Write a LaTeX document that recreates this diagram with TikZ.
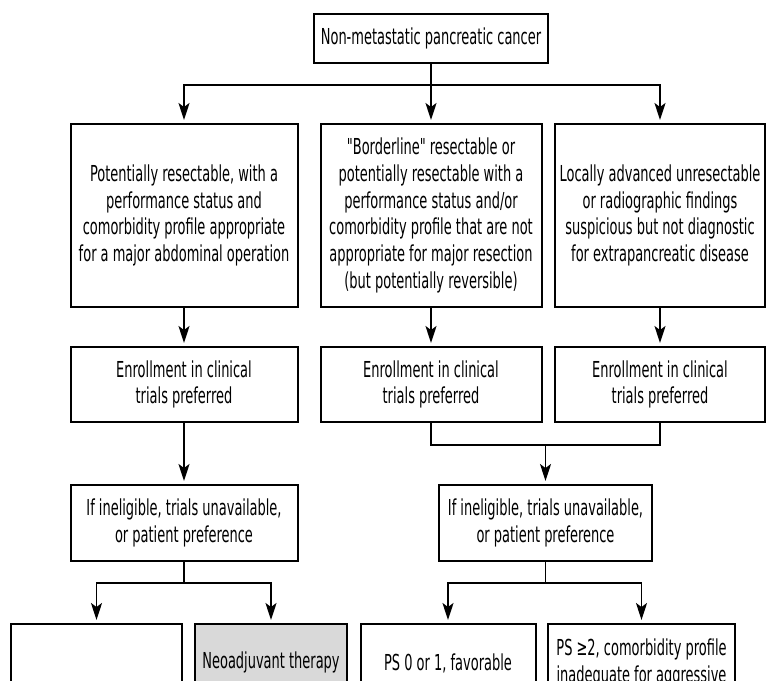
\documentclass[tikz,border=0pt]{standalone}
\usepackage{fontspec}
\setmainfont{DejaVu Sans}[FakeStretch=0.59,Ligatures=TeXOff]
\usetikzlibrary{arrows.meta}
\definecolor{shade}{HTML}{D9D9D9}

\begin{document}
\begin{tikzpicture}[x=1pt,y=-1pt,
    every node/.style={draw,line width=2pt,align=center,inner sep=0pt,
      font=\fontsize{22}{26.8}\selectfont},
    flow/.style={line width=1.8pt},
    arr/.style={flow,-{Stealth[length=17pt,width=11pt,inset=4pt]},shorten >=3pt},
    low/.style={anchor=north,text height=16pt,text depth=120pt}]
  \fill[white] (0,0) rectangle (767,680);
  \useasboundingbox (0,0) rectangle (767,680);
  \clip (0,0) rectangle (767,680);

  \node[minimum width=234pt,minimum height=49pt] (top) at (431,38) {Non-metastatic pancreatic cancer};

  \node[minimum width=227pt,minimum height=183pt] (res) at (184,215.5)
    {Potentially resectable, with a\\performance status and\\comorbidity profile appropriate\\for a major abdominal operation};
  \node[minimum width=221pt,minimum height=183pt] (bord) at (431,215.5)
    {"Borderline" resectable or\\potentially resectable with a\\performance status and/or\\comorbidity profile that are not\\appropriate for major resection\\(but potentially reversible)};
  \node[minimum width=210pt,minimum height=183pt] (lad) at (660,215.5)
    {Locally advanced unresectable\\or radiographic findings\\suspicious but not diagnostic\\for extrapancreatic disease};

  \node[minimum width=227pt,minimum height=75pt] (enr1) at (184,384.5) {Enrollment in clinical\\trials preferred};
  \node[minimum width=221pt,minimum height=75pt] (enr2) at (431,384.5) {Enrollment in clinical\\trials preferred};
  \node[minimum width=210pt,minimum height=75pt] (enr3) at (660,384.5) {Enrollment in clinical\\trials preferred};

  \node[minimum width=227pt,minimum height=76pt] (inel1) at (184,523) {If ineligible, trials unavailable,\\or patient preference};
  \node[minimum width=213pt,minimum height=76pt] (inel2) at (545.5,523) {If ineligible, trials unavailable,\\or patient preference};

  \node[low,minimum width=171pt] (surg) at (96.5,623) {};
  \node[low,minimum width=152pt,fill=shade,inner ysep=28pt] (neo) at (271,623) {Neoadjuvant therapy};
  \node[low,minimum width=175pt,inner ysep=30pt] (ps01) at (448,623) {PS 0 or 1, favorable};
  \node[low,minimum width=187pt,inner ysep=42pt] (ps2) at (641.5,623) {PS ≥2, comorbidity profile\\inadequate for aggressive};

  \coordinate (s1) at (431,85);
  \draw[flow] (top) -- (s1);
  \draw[arr] (s1) -| (res);
  \draw[arr] (s1) -- (bord);
  \draw[arr] (s1) -| (lad);

  \draw[arr] (res) -- (enr1);
  \draw[arr] (bord) -- (enr2);
  \draw[arr] (lad) -- (enr3);

  \draw[arr] (enr1) -- (inel1);
  \coordinate (m1) at (545.5,445);
  \draw[flow] (enr2) |- (m1) -| (enr3);
  \draw[arr] (m1) -- (inel2);

  \coordinate (s2) at (184,583);
  \draw[flow] (inel1) -- (s2);
  \draw[arr] (s2) -| (surg);
  \draw[arr] (s2) -| (neo);
  \coordinate (s3) at (545.5,583);
  \draw[flow] (inel2) -- (s3);
  \draw[arr] (s3) -| (ps01);
  \draw[arr] (s3) -| (ps2);
\end{tikzpicture}
\end{document}
